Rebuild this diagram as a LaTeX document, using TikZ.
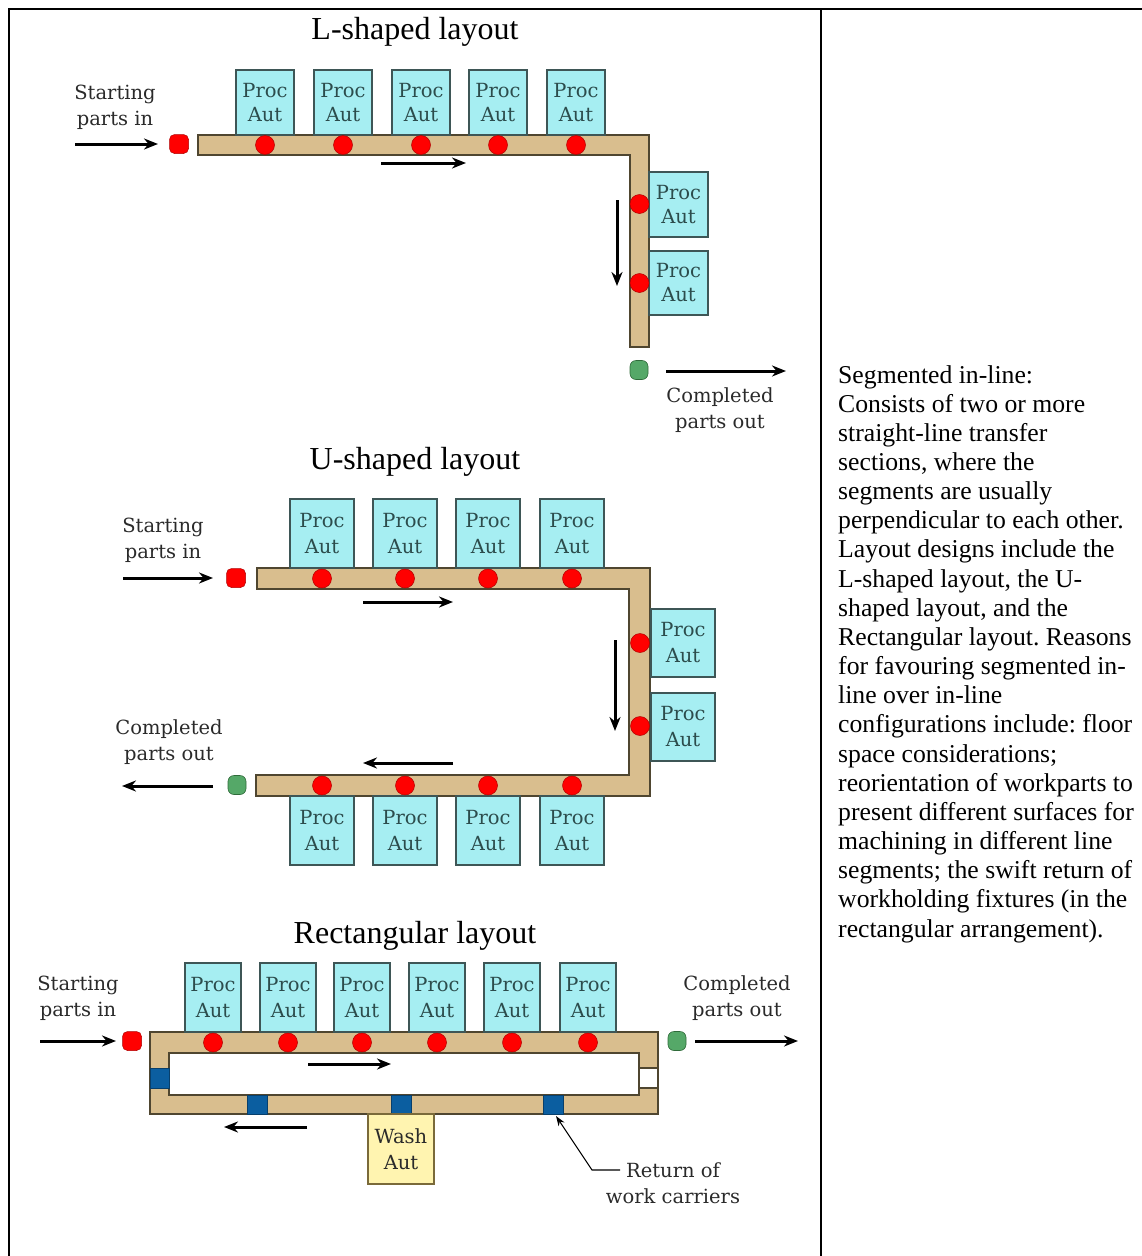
\documentclass[tikz,border=0pt]{standalone}
\usepackage{fontspec}
\setmainfont{Liberation Serif}
\newfontfamily\labfont{DejaVu Serif}
\usetikzlibrary{arrows.meta}
\frenchspacing
\definecolor{procf}{HTML}{A6EEF2}
\definecolor{procb}{HTML}{3E5656}
\definecolor{convf}{HTML}{D9BE8E}
\definecolor{convb}{HTML}{4F4630}
\definecolor{dotr}{HTML}{FF0000}
\definecolor{dotrb}{HTML}{B00000}
\definecolor{dotg}{HTML}{55A868}
\definecolor{dotgb}{HTML}{2F6B3A}
\definecolor{carrier}{HTML}{0B5EA0}
\definecolor{carrierb}{HTML}{083F6B}
\definecolor{washf}{HTML}{FFF4B0}
\definecolor{washb}{HTML}{7A6A3A}
\definecolor{labtext}{HTML}{2A2A2A}
\definecolor{proctext}{HTML}{2C4C4C}
\begin{document}
\begin{tikzpicture}[x=1pt,y=-1pt,
  proc/.style={draw=procb, fill=procf, line width=1.3pt, inner sep=0pt, align=center,
    text=proctext, font=\labfont\fontsize{19.5}{24}\selectfont},
  procU/.style={proc, font=\labfont\fontsize{19.5}{26}\selectfont},
  conv/.style={draw=convb, fill=convf, line width=1.3pt},
  rdot/.style={circle, fill=dotr, draw=dotrb, line width=0.5pt, minimum size=19pt, inner sep=0pt},
  sdot/.style={rounded corners=5pt, rectangle, fill=dotr, draw=dotrb, line width=0.5pt, minimum width=19pt, minimum height=19pt, inner sep=0pt},
  gdot/.style={rounded corners=6pt, rectangle, fill=dotg, draw=dotgb, line width=0.6pt, minimum width=18pt, minimum height=19pt, inner sep=0pt},
  carr/.style={rectangle, fill=carrier, draw=carrierb, line width=0.5pt, inner sep=0pt},
  arr/.style={-{Stealth[length=14pt,width=11pt]}, line width=3pt},
  lbl/.style={align=center, text=labtext, font=\labfont\fontsize{19.5}{26}\selectfont},
  ttl/.style={anchor=base, font=\fontsize{32}{36}\selectfont},
  body/.style={anchor=base west, inner sep=0pt, font=\fontsize{25.7}{29}\selectfont},
  frame/.style={line width=2.5pt}
]
\useasboundingbox (0,0) rectangle (1142,1256);
% frame
\coordinate (f1) at (9,9);
\coordinate (f2) at (1142,9);
\coordinate (f3) at (9,1256);
\coordinate (f4) at (821,9);
\coordinate (f5) at (821,1256);
\draw[frame] (f3) -- (f1) -- (f2);
\draw[frame] (f4) -- (f5);

% ================= L-shaped =================
\node[ttl] (tL) at (415,39) {L-shaped layout};
\draw[conv] (198,135) -- (649,135) -- (649,347) -- (630,347) -- (630,155) -- (198,155) -- cycle;
\foreach \x [count=\i] in {265,343,421,498,576}{
  \node[proc, minimum width=58pt, minimum height=65pt] (lp\i) at (\x,102.5) {Proc\\Aut};
  \node[rdot] (ld\i) at (\x,145) {};
}
\node[proc, minimum width=59pt, minimum height=65pt] (lp6) at (678.5,204.5) {Proc\\Aut};
\node[proc, minimum width=59pt, minimum height=64pt] (lp7) at (678.5,283) {Proc\\Aut};
\node[rdot] (ld6) at (639.5,204) {};
\node[rdot] (ld7) at (639.5,283) {};
\node[sdot] (lin) at (179,144) {};
\node[gdot] (lout) at (639,370) {};
\node[lbl] (lsl) at (115,107.5) {Starting\\parts in};
\node[lbl] (lcl) at (720,410) {Completed\\parts out};
\coordinate (la1) at (75,144);   \coordinate (la2) at (158,144);
\coordinate (lb1) at (381,163);  \coordinate (lb2) at (466,163);
\coordinate (lc1) at (617,200);  \coordinate (lc2) at (617,286);
\coordinate (le1) at (666,371);  \coordinate (le2) at (786,371);
\draw[arr] (la1) -- (la2);
\draw[arr] (lb1) -- (lb2);
\draw[arr] (lc1) -- (lc2);
\draw[arr] (le1) -- (le2);

% ================= U-shaped =================
\node[ttl] (tU) at (415,469) {U-shaped layout};
\draw[conv] (257,568) -- (650,568) -- (650,796) -- (256,796) -- (256,775) -- (629,775) -- (629,589) -- (257,589) -- cycle;
\foreach \x [count=\i] in {322,405,488,572}{
  \node[procU, minimum width=64pt, minimum height=69pt] (up\i) at (\x,533.5) {Proc\\Aut};
  \node[procU, minimum width=64pt, minimum height=69pt] (uq\i) at (\x,830.5) {Proc\\Aut};
  \node[rdot] (ud\i) at (\x,578.5) {};
  \node[rdot] (ue\i) at (\x,785.5) {};
}
\node[procU, minimum width=64pt, minimum height=68pt] (ur1) at (683,643) {Proc\\Aut};
\node[procU, minimum width=64pt, minimum height=68pt] (ur2) at (683,727) {Proc\\Aut};
\node[rdot] (uf1) at (640,643) {};
\node[rdot] (uf2) at (640,726) {};
\node[sdot] (uin) at (236,578) {};
\node[gdot] (uout) at (237,785) {};
\node[lbl] (usl) at (163,540) {Starting\\parts in};
\node[lbl] (ucl) at (169,742.5) {Completed\\parts out};
\coordinate (ua1) at (123,578);  \coordinate (ua2) at (213,578);
\coordinate (ub1) at (363,602);  \coordinate (ub2) at (453,602);
\coordinate (uc1) at (615,640);  \coordinate (uc2) at (615,731);
\coordinate (ud1) at (453,763);  \coordinate (ud2) at (363,763);
\coordinate (ue1) at (213,786);  \coordinate (ue2) at (122,786);
\draw[arr] (ua1) -- (ua2);
\draw[arr] (ub1) -- (ub2);
\draw[arr] (uc1) -- (uc2);
\draw[arr] (ud1) -- (ud2);
\draw[arr] (ue1) -- (ue2);

% ================= Rectangular =================
\node[ttl] (tR) at (415,943) {Rectangular layout};
\draw[conv] (150,1032) rectangle (658,1114);
\draw[conv, fill=white] (169,1053) rectangle (639,1095);
\foreach \x [count=\i] in {213,288,362,437,512,588}{
  \node[procU, minimum width=56pt, minimum height=69pt] (rp\i) at (\x,997.5) {Proc\\Aut};
  \node[rdot] (rd\i) at (\x,1042.5) {};
}
\node[carr, minimum width=19pt, minimum height=20pt] (bc0) at (159.5,1078) {};
\node[carr, minimum width=20pt, minimum height=19pt] (bc1) at (257,1104.5) {};
\node[carr, minimum width=20pt, minimum height=19pt] (bc2) at (401,1104.5) {};
\node[carr, minimum width=20pt, minimum height=19pt] (bc3) at (553,1104.5) {};
\node[draw=convb, fill=white, line width=1.3pt, minimum width=19pt, minimum height=20pt, inner sep=0pt] (rgap) at (648.5,1078) {};
\node[proc, draw=washb, fill=washf, text=labtext, minimum width=66pt, minimum height=70pt,
  font=\labfont\fontsize{19.5}{26}\selectfont] (wash) at (401,1149) {Wash\\Aut};
\node[sdot] (rin) at (132,1041) {};
\node[gdot] (rout) at (677,1041) {};
\node[lbl] (rsl) at (78,998.5) {Starting\\parts in};
\node[lbl] (rcl) at (737,998.5) {Completed\\parts out};
\node[lbl] (rret) at (673,1183.5) {Return of\\work carriers};
\coordinate (ra1) at (40,1041);   \coordinate (ra2) at (116,1041);
\coordinate (rb1) at (308,1064);  \coordinate (rb2) at (391,1064);
\coordinate (rc1) at (307,1127);  \coordinate (rc2) at (224,1127);
\coordinate (re1) at (695,1041);  \coordinate (re2) at (798,1041);
\coordinate (rk1) at (620,1170);  \coordinate (rk2) at (592,1170);
\coordinate (rk3) at (556,1116);
\draw[arr] (ra1) -- (ra2);
\draw[arr] (rb1) -- (rb2);
\draw[arr] (rc1) -- (rc2);
\draw[arr] (re1) -- (re2);
\draw[-{Stealth[length=10pt,width=7pt]}, line width=1.1pt] (rk1) -- (rk2) -- (rk3);

% ================= Right text =================
\foreach \t [count=\i] in {
  {Segmented in-line:},
  {Consists of two or more},
  {straight-line transfer},
  {sections, where the},
  {segments are usually},
  {perpendicular to each other.},
  {Layout designs include the},
  {L-shaped layout, the U-},
  {shaped layout, and the},
  {Rectangular layout. Reasons},
  {for favouring segmented in-},
  {line over in-line},
  {configurations include: floor},
  {space considerations;},
  {reorientation of workparts to},
  {present different surfaces for},
  {machining in different line},
  {segments; the swift return of},
  {workholding fixtures (in the},
  {rectangular arrangement).}}{
  \node[body] (txt\i) at (838,{383+29.16*(\i-1)}) {\t};
}
\end{tikzpicture}
\end{document}
